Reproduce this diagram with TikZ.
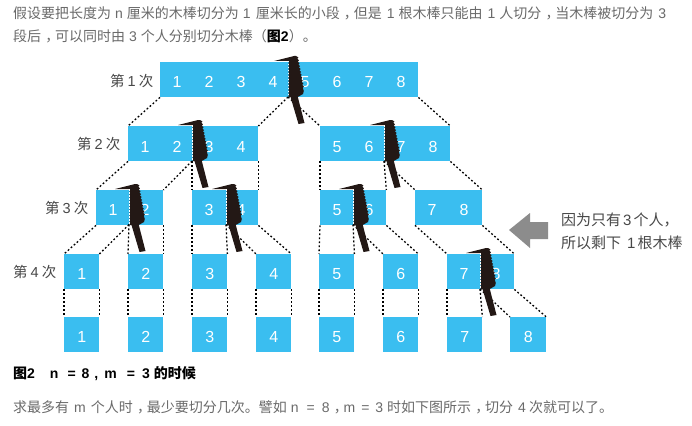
\documentclass[tikz,border=0pt]{standalone}
\usepackage{fontspec}
\setmainfont{Noto Sans CJK SC}
\newfontfamily\latn{Liberation Sans}
\newcommand{\lt}[1]{{\latn #1}}
\newcommand{\zc}{\kern.3em，\kern-.3em}
\newcommand{\gp}[1]{\hspace{#1pt}}
\newcommand{\dg}[1]{\raisebox{-1.5pt}{#1}}
\definecolor{boxblue}{HTML}{3ABEF0}
\definecolor{sawblack}{HTML}{231815}
\definecolor{bodygray}{HTML}{6A6A6A}
\definecolor{labgray}{HTML}{484848}
\tikzset{
  box/.style={fill=boxblue,draw=none,inner sep=0pt,anchor=north west,minimum height=35pt,text height=12pt,text depth=0pt,text=white,font=\latn\fontsize{16}{16}\selectfont},
  digit/.style={inner sep=0pt,anchor=base,text=white,font=\latn\fontsize{16}{16}\selectfont},
  dotlink/.style={draw=black,line width=1.3pt,dash pattern=on 1.8pt off 2.2pt},
  para/.style={inner sep=0pt,anchor=west,text=bodygray,font=\fontsize{14}{14}\selectfont},
  captext/.style={inner sep=0pt,anchor=west,text=black,font=\bfseries\fontsize{14}{14}\selectfont},
  lab/.style={inner sep=0pt,anchor=west,text=labgray,font=\fontsize{14.5}{15}\selectfont},
  saw/.pic={
    \fill[sawblack] (-14,-1) -- (6,-6) -- (8,-6)
      \foreach \i in {0,...,10} { -- ({10.4+.55*\i},{-4.6+2.9*\i}) -- ({9.3+.55*\i},{-3.2+2.9*\i}) }
      -- (15.8,29) -- (15,32) -- (9.8,35) -- (16.5,61) -- (10.5,62) -- (2.5,35) -- (0.5,35) -- (0.5,-1) -- cycle;
    \draw[white,line width=1pt,dash pattern=on 1.5pt off 1.5pt] (0,-1) -- (0,34);
  }
}
\begin{document}
\begin{tikzpicture}[x=1pt,y=-1pt]
\fill[white] (0,0) rectangle (692,425);
\useasboundingbox (0,0) rectangle (692,425);
% text
\node[para] (t1) at (13,13) {假设要把长度为\gp{4}\lt{n}\gp{4}厘米的木棒切分为\gp{4}\lt{1}\gp{5}厘米长的小段\zc 但是\gp{5}\lt{1}\gp{4}根木棒只能由\gp{5}\lt{1}\gp{4}人切分\zc 当木棒被切分为\gp{5}\lt{3}};
\node[para] (t2) at (13,36) {段后\zc 可以同时由\gp{4}\lt{3}\gp{4}个人分别切分木棒（{\color{black}\bfseries 图\lt{2}}）。};
\node[captext] (t3) at (13,374) {图\lt{2}\gp{15}\lt{n}\gp{9}\lt{=}\gp{6}\lt{8}\gp{5}\lt{,}\gp{6}\lt{m}\gp{10}\lt{=}\gp{7}\lt{3}\gp{4}的时候};
\node[para] (t4) at (13,407) {求最多有\gp{5}\lt{m}\gp{5}个人时\zc 最少要切分几次。譬如\gp{4}\lt{n}\gp{8}\lt{=}\gp{7}\lt{8}\zc \lt{m}\gp{6}\lt{=}\gp{6}\lt{3}\gp{4}时如下图所示\zc 切分\gp{5}\lt{4}\gp{3}次就可以了。};
% level labels
\node[lab] (l1) at (110,81) {第\gp{3}\lt{1}\gp{3}次};
\node[lab] (l2) at (77,144) {第\gp{3}\lt{2}\gp{3}次};
\node[lab] (l3) at (45,208) {第\gp{3}\lt{3}\gp{3}次};
\node[lab] (l4) at (13,272) {第\gp{3}\lt{4}\gp{3}次};
% boxes
\node[box,minimum width=258pt] (a) at (160,62) {};
\node[box,minimum width=130pt] (b1) at (128,126) {};
\node[box,minimum width=130pt] (b2) at (320,126) {};
\node[box,minimum width=67pt] (c1) at (96,190) {};
\node[box,minimum width=66pt] (c2) at (192,190) {};
\node[box,minimum width=66pt] (c3) at (320,190) {};
\node[box,minimum width=67pt] (c4) at (415,190) {};
\node[box,minimum width=35pt] (d1) at (64,254) {\dg{1}};
\node[box,minimum width=35pt] (d2) at (128,254) {\dg{2}};
\node[box,minimum width=35pt] (d3) at (192,254) {\dg{3}};
\node[box,minimum width=35pt] (d4) at (256,254) {\dg{4}};
\node[box,minimum width=35pt] (d5) at (319,254) {\dg{5}};
\node[box,minimum width=35pt] (d6) at (383,254) {\dg{6}};
\node[box,minimum width=67pt] (d7) at (447,254) {};
\node[box,minimum width=35pt] (e1) at (64,317) {\dg{1}};
\node[box,minimum width=35pt] (e2) at (128,317) {\dg{2}};
\node[box,minimum width=35pt] (e3) at (192,317) {\dg{3}};
\node[box,minimum width=35pt] (e4) at (256,317) {\dg{4}};
\node[box,minimum width=35pt] (e5) at (319,317) {\dg{5}};
\node[box,minimum width=35pt] (e6) at (383,317) {\dg{6}};
\node[box,minimum width=35pt] (e7) at (447,317) {\dg{7}};
\node[box,minimum width=36pt] (e8) at (510,317) {\dg{8}};
% digits in long boxes
\foreach \n/\x in {1/177,2/209,3/241,4/273,5/305,6/337,7/369,8/401}
  \node[digit] (da\n) at (\x,88) {\n};
\foreach \n/\x in {1/145,2/177,3/209,4/241,5/337,6/369,7/401,8/433}
  \node[digit] (db\n) at (\x,152) {\n};
\foreach \n/\x in {1/113,2/145,3/209,4/241,5/337,6/369,7/432,8/464}
  \node[digit] (dc\n) at (\x,215) {\n};
\foreach \n/\x in {7/464,8/496}
  \node[digit] (dd\n) at (\x,279) {\n};
% cut points
\coordinate (sa) at (288,97);
\coordinate (sb1) at (192,161);
\coordinate (sb2) at (384,161);
\coordinate (sc1) at (129,224.5);
\coordinate (sc2) at (226,224.5);
\coordinate (sc3) at (353,224.5);
\coordinate (sd7) at (480,289);
% connectors
\draw[dotlink] (a.south west) -- (b1.north west);
\draw[dotlink] (sa) -- (b1.north east);
\draw[dotlink] (sa) -- (b2.north west);
\draw[dotlink] (a.south east) -- (b2.north east);
\draw[dotlink] (b1.south west) -- (c1.north west);
\draw[dotlink] (sb1) -- (c1.north east);
\draw[dotlink] (sb1) -- (c2.north west);
\draw[dotlink] (b1.south east) -- (c2.north east);
\draw[dotlink] (b2.south west) -- (c3.north west);
\draw[dotlink] (sb2) -- (c3.north east);
\draw[dotlink] (sb2) -- (c4.north west);
\draw[dotlink] (b2.south east) -- (c4.north east);
\draw[dotlink] (c1.south west) -- (d1.north west);
\draw[dotlink] (sc1) -- (d1.north east);
\draw[dotlink] (sc1) -- (d2.north west);
\draw[dotlink] (c1.south east) -- (d2.north east);
\draw[dotlink] (c2.south west) -- (d3.north west);
\draw[dotlink] (sc2) -- (d3.north east);
\draw[dotlink] (sc2) -- (d4.north west);
\draw[dotlink] (c2.south east) -- (d4.north east);
\draw[dotlink] (c3.south west) -- (d5.north west);
\draw[dotlink] (sc3) -- (d5.north east);
\draw[dotlink] (sc3) -- (d6.north west);
\draw[dotlink] (c3.south east) -- (d6.north east);
\draw[dotlink] (c4.south west) -- (d7.north west);
\draw[dotlink] (c4.south east) -- (d7.north east);
\foreach \n in {1,...,6}{
  \draw[dotlink] (d\n.south west) -- (e\n.north west);
  \draw[dotlink] (d\n.south east) -- (e\n.north east);
}
\draw[dotlink] (d7.south west) -- (e7.north west);
\draw[dotlink] (sd7) -- (e7.north east);
\draw[dotlink] (sd7) -- (e8.north west);
\draw[dotlink] (d7.south east) -- (e8.north east);
% saws
\pic at (288,62) {saw};
\pic at (192,126) {saw};
\pic at (384,126) {saw};
\pic at (129,190) {saw};
\pic at (226,190) {saw};
\pic at (353,190) {saw};
\pic at (480,254) {saw};
% note
\fill[gray!90!white] (509,230) -- (530,213) -- (530,222) -- (548,222) -- (548,239) -- (530,239) -- (530,248) -- cycle;
\node[lab,font=\fontsize{15}{15}\selectfont] (n1) at (561,220) {因为只有\gp{2}\lt{3}\gp{2}个人，};
\node[lab,font=\fontsize{15}{15}\selectfont] (n2) at (561,243) {所以剩下\gp{6}\lt{1}\gp{2}根木棒};
\end{tikzpicture}
\end{document}
